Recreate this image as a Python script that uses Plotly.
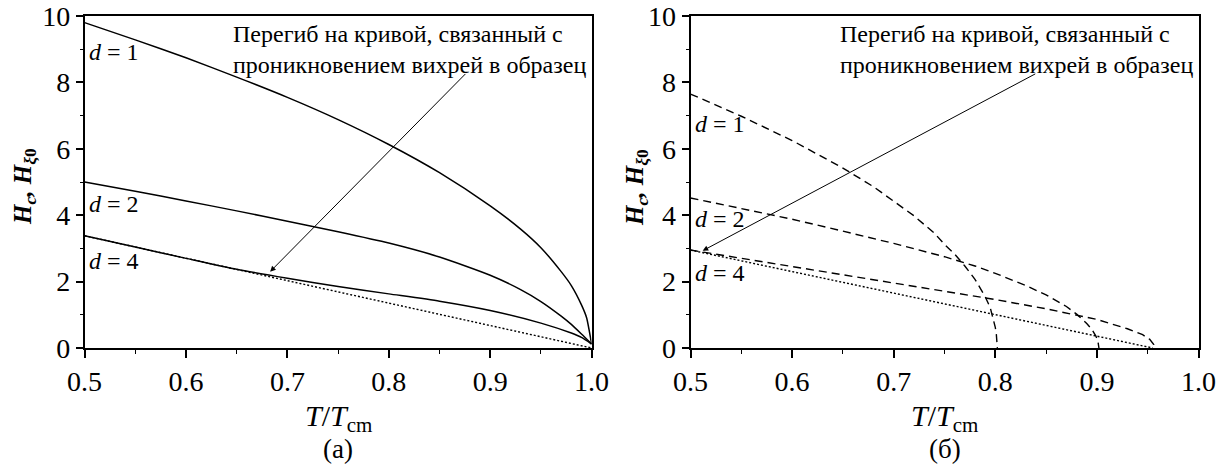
import plotly.graph_objects as go

# ---------- data ----------
# panel (a)
t_a1 = [0.5, 0.55, 0.6, 0.65, 0.7, 0.75, 0.8, 0.85, 0.9, 0.93, 0.95, 0.97, 0.98, 0.99, 0.995, 1.0]
h_a1 = [9.8, 9.28, 8.74, 8.16, 7.55, 6.88, 6.13, 5.28, 4.28, 3.58, 3.02, 2.30, 1.88, 1.30, 0.92, 0.12]

t_a2 = [0.5, 0.55, 0.6, 0.65, 0.7, 0.75, 0.8, 0.85, 0.9, 0.93, 0.95, 0.97, 0.98, 0.99, 1.0]
h_a2 = [5.0, 4.72, 4.43, 4.13, 3.82, 3.50, 3.16, 2.74, 2.19, 1.76, 1.40, 0.96, 0.71, 0.42, 0.12]

t_a4 = [0.5, 0.55, 0.6, 0.65, 0.7, 0.75, 0.8, 0.85, 0.9, 0.95, 0.98, 0.99, 1.0]
h_a4 = [3.38, 3.04, 2.70, 2.37, 2.10, 1.85, 1.63, 1.41, 1.13, 0.75, 0.45, 0.32, 0.12]

t_a_lin = [0.5, 0.6, 0.7, 0.8, 0.9, 1.0]
h_a_lin = [3.38, 2.70, 2.03, 1.35, 0.68, 0.0]

# panel (б)
t_b1 = [0.5, 0.55, 0.6, 0.65, 0.68, 0.7, 0.72, 0.74, 0.75, 0.76, 0.77, 0.78, 0.785, 0.79, 0.795, 0.798, 0.8, 0.801, 0.802]
h_b1 = [7.65, 6.98, 6.25, 5.42, 4.86, 4.42, 3.98, 3.46, 3.12, 2.83, 2.47, 2.07, 1.82, 1.55, 1.22, 0.90, 0.62, 0.42, 0.0]

t_b2 = [0.5, 0.55, 0.6, 0.65, 0.7, 0.75, 0.78, 0.8, 0.83, 0.85, 0.87, 0.88, 0.89, 0.895, 0.899, 0.901, 0.902]
h_b2 = [4.52, 4.20, 3.88, 3.52, 3.15, 2.75, 2.47, 2.25, 1.88, 1.60, 1.25, 1.02, 0.74, 0.56, 0.36, 0.20, 0.0]

t_b4 = [0.5, 0.55, 0.6, 0.65, 0.7, 0.75, 0.8, 0.85, 0.9, 0.93, 0.945, 0.952, 0.956, 0.957]
h_b4 = [2.95, 2.70, 2.45, 2.20, 1.95, 1.71, 1.46, 1.18, 0.86, 0.58, 0.40, 0.26, 0.10, 0.0]

t_b_lin = [0.5, 0.6, 0.7, 0.8, 0.9, 0.955]
h_b_lin = [2.95, 2.30, 1.66, 1.01, 0.36, 0.0]

x_ticks = [0.5, 0.6, 0.7, 0.8, 0.9, 1.0]
x_tick_text = ["0.5", "0.6", "0.7", "0.8", "0.9", "1.0"]
y_ticks = [0, 2, 4, 6, 8, 10]
y_tick_text = ["0", "2", "4", "6", "8", "10"]

note_text = "Перегиб на кривой, связанный с<br>проникновением вихрей в образец"
labels_d = ["<i>d</i> = 1", "<i>d</i> = 2", "<i>d</i> = 4"]
labels_a_y = [8.93, 4.33, 2.62]
labels_b_y = [6.76, 3.88, 2.26]

# ---------- figure ----------
FONT = "Liberation Serif, 'Times New Roman', serif"
W, H = 1227, 468
fig = go.Figure()

solid = dict(color="black", width=1.5)
dashed = dict(color="black", width=1.4, dash="8px,5px")
dotted = dict(color="black", width=1.4, dash="2px,2px")

for t, h in [(t_a1, h_a1), (t_a2, h_a2), (t_a4, h_a4)]:
    fig.add_trace(go.Scatter(x=t, y=h, mode="lines", line=dict(solid, shape="spline", smoothing=0.6),
                             xaxis="x", yaxis="y"))
fig.add_trace(go.Scatter(x=t_a_lin, y=h_a_lin, mode="lines", line=dotted, xaxis="x", yaxis="y"))

for t, h in [(t_b1, h_b1), (t_b2, h_b2), (t_b4, h_b4)]:
    fig.add_trace(go.Scatter(x=t, y=h, mode="lines", line=dashed, xaxis="x2", yaxis="y2"))
fig.add_trace(go.Scatter(x=t_b_lin, y=h_b_lin, mode="lines", line=dotted, xaxis="x2", yaxis="y2"))

TICKFONT = dict(family=FONT, size=28, color="black")

def xax(domain, anchor):
    return dict(domain=domain, anchor=anchor, range=[0.5, 1.0], tickvals=x_ticks, ticktext=x_tick_text,
                automargin=False,
                showgrid=False, zeroline=False, showline=True, linecolor="black", linewidth=1.6, mirror=True,
                ticks="outside", ticklen=8, tickwidth=1.5, tickcolor="black",
                minor=dict(ticks="outside", ticklen=4, tickwidth=1.2, tickcolor="black", dtick=0.05, tick0=0.5, showgrid=False),
                tickfont=TICKFONT)

def yax(domain, anchor):
    return dict(domain=domain, anchor=anchor, range=[0, 10], tickvals=y_ticks, ticktext=y_tick_text,
                automargin=False,
                showgrid=False, zeroline=False, showline=True, linecolor="black", linewidth=1.6, mirror=True,
                ticks="outside", ticklen=7, tickwidth=1.5, tickcolor="black",
                minor=dict(ticks="outside", ticklen=3, tickwidth=1.2, tickcolor="black", dtick=1, tick0=0, showgrid=False),
                tickfont=TICKFONT)

xa = [84.6 / W, 591.6 / W]
xb = [690.5 / W, 1198.5 / W]
fig.update_layout(
    width=W, height=H,
    margin=dict(l=0, r=0, t=16, b=120, autoexpand=False),
    paper_bgcolor="white", plot_bgcolor="white",
    showlegend=False,
    xaxis=xax(xa, "y"), yaxis=yax([0, 1], "x"),
    xaxis2=xax(xb, "y2"), yaxis2=yax([0, 1], "x2"),
    font=dict(family=FONT, color="black"),
)

ann = []
for xr, yr, x0, head, tail in [("x", "y", 0.644, (0.683, 2.30), (0.877, 8.30)),
                                ("x2", "y2", 0.6455, (0.512, 2.93), (0.8408, 8.28))]:
    ann.append(dict(xref=xr, yref=yr, x=x0, y=9.9, xanchor="left", yanchor="top", align="left",
                    text=note_text, showarrow=False, font=dict(family=FONT, size=24, color="black")))
    ann.append(dict(xref=xr, yref=yr, x=head[0], y=head[1], axref=xr, ayref=yr, ax=tail[0], ay=tail[1],
                    text="", showarrow=True, arrowhead=2, arrowsize=1.1, arrowwidth=1, arrowcolor="black"))

for xr, yr, ys in [("x", "y", labels_a_y), ("x2", "y2", labels_b_y)]:
    for lab, yy in zip(labels_d, ys):
        ann.append(dict(xref=xr, yref=yr, x=0.502, y=yy, xanchor="left", yanchor="middle",
                        text=lab, showarrow=False, font=dict(family=FONT, size=24, color="black")))

def py(px):
    return 1 - (px - 16) / 332.0

for cx, sub in [((84.6 + 591.6) / 2, "(a)"), ((690.5 + 1198.5) / 2, "(б)")]:
    ann.append(dict(xref="paper", yref="paper", x=cx / W, y=py(418), xanchor="center", yanchor="middle",
                    text="<i>T</i>/<i>T</i><sub>cm</sub>", showarrow=False,
                    font=dict(family=FONT, size=30, color="black")))
    ann.append(dict(xref="paper", yref="paper", x=cx / W, y=py(449), xanchor="center", yanchor="middle",
                    text=sub, showarrow=False, font=dict(family=FONT, size=27, color="black")))

for cx in [24, 636]:
    ann.append(dict(xref="paper", yref="paper", x=cx / W, y=py(187), xanchor="center", yanchor="middle",
                    text="<b><i>H</i><sub><i>c</i></sub><i>, H</i><sub><i>ξ</i>0</sub></b>", textangle=-90,
                    showarrow=False, font=dict(family=FONT, size=25, color="black")))

fig.update_layout(annotations=ann)
fig.write_html("out.html")
